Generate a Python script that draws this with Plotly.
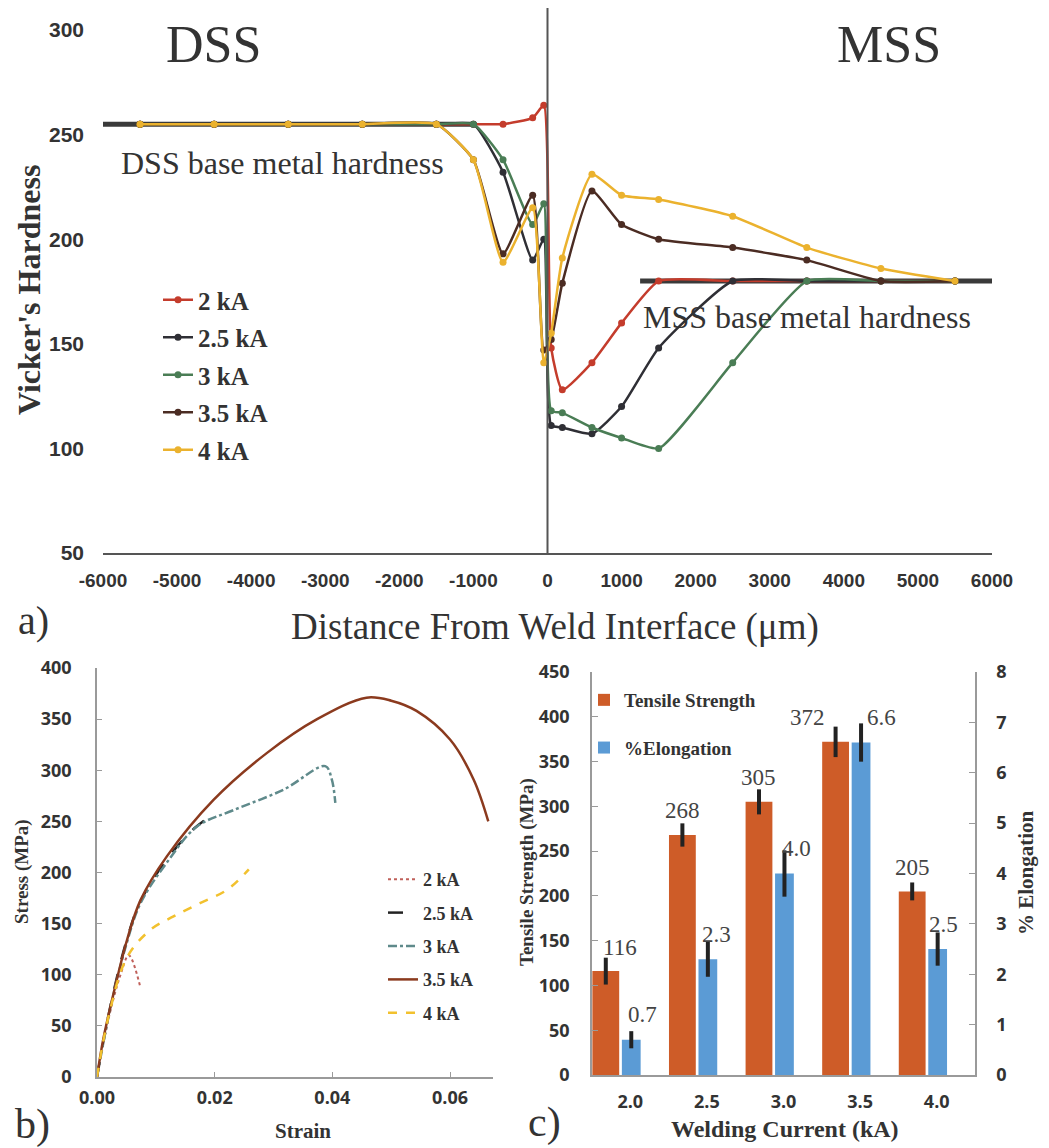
import plotly.graph_objects as go

# ---------------- data: (a) hardness profile ----------------
distance_um = [-5500, -4500, -3500, -2500, -1500, -1000, -600, -200, -50, 50, 200, 600, 1000, 1500, 2500, 3500, 4500, 5500]
hv_2kA   = [255, 255, 255, 255, 255, 255, 255, 258, 264, 148, 128, 141, 160, 180, 180, 180, 180, 180]
hv_2_5kA = [255, 255, 255, 255, 255, 255, 232, 190, 200, 111, 110, 107, 120, 148, 180, 180, 180, 180]
hv_3kA   = [255, 255, 255, 255, 255, 255, 238, 207, 217, 118, 117, 110, 105, 100, 141, 180, 180, 180]
hv_3_5kA = [255, 255, 255, 255, 255, 238, 193, 221, 147, 152, 179, 223, 207, 200, 196, 190, 180, 180]
hv_4kA   = [255, 255, 255, 255, 255, 238, 189, 215, 141, 155, 191, 231, 221, 219, 211, 196, 186, 180]
hardness_series = ["2 kA", "2.5 kA", "3 kA", "3.5 kA", "4 kA"]
dss_base_hv = 255
dss_base_span = [-6000, -1000]
mss_base_hv = 180
mss_base_span = [1250, 6000]
x_ticks_a = [-6000, -5000, -4000, -3000, -2000, -1000, 0, 1000, 2000, 3000, 4000, 5000, 6000]

# ---------------- data: (b) stress-strain ----------------
strain_2kA = [0, 0.002, 0.004, 0.0054, 0.0074]
stress_2kA = [0, 58, 100, 119, 87]
strain_2_5kA = [0, 0.0023, 0.0051, 0.0074, 0.0119, 0.0165, 0.0198]
stress_2_5kA = [0, 70, 135, 172, 213, 243, 257]
strain_3kA = [0, 0.0023, 0.0051, 0.0074, 0.0119, 0.017, 0.0232, 0.0317, 0.0388, 0.0399, 0.0405]
stress_3kA = [0, 68, 132, 170, 210, 245, 261, 281, 304, 291, 268]
strain_3_5kA = [0, 0.001, 0.0023, 0.0051, 0.0074, 0.0119, 0.0198, 0.0289, 0.0374, 0.0458, 0.050, 0.0543, 0.060, 0.064, 0.0665]
stress_3_5kA = [0, 35, 69, 134, 173, 216, 271, 317, 350, 371, 368, 358, 330, 291, 250]
strain_4kA = [0, 0.002, 0.0051, 0.0091, 0.013, 0.0175, 0.0221, 0.0258]
stress_4kA = [0, 60, 117, 144, 157, 170, 183, 203]

# ---------------- data: (c) tensile strength / elongation ----------------
welding_current = ["2.0", "2.5", "3.0", "3.5", "4.0"]
tensile_strength = [116, 268, 305, 372, 205]
tensile_err = [15, 13, 14, 17, 10]
elongation = [0.7, 2.3, 4.0, 6.6, 2.5]
elongation_err = [0.17, 0.35, 0.46, 0.38, 0.33]

SERIF = "Liberation Serif"
SANS_A = "Liberation Sans"
SANS = "Open Sans"
TXT = "#333333"
W, H = 1049, 1148
OFF = 8              # page body margin: the figure starts 8 px in from the window corner
FW, FH = W - OFF, H - OFF

def px_x(p):
    return (p - OFF) / FW

def px_y(p):
    return 1 - (p - OFF) / FH

fig = go.Figure()

# ---- (a) ----
colors_a = ["#C43C2C", "#2F2F35", "#4A7D55", "#4B2C23", "#EBB22E"]
series_a = [hv_2kA, hv_2_5kA, hv_3kA, hv_3_5kA, hv_4kA]
fig.add_trace(go.Scatter(x=dss_base_span, y=[dss_base_hv, dss_base_hv], mode="lines",
                         line=dict(color="#3A3A3A", width=5), showlegend=False, xaxis="x", yaxis="y"))
fig.add_trace(go.Scatter(x=mss_base_span, y=[mss_base_hv, mss_base_hv], mode="lines",
                         line=dict(color="#3A3A3A", width=5), showlegend=False, xaxis="x", yaxis="y"))
for name, ys, c in zip(hardness_series, series_a, colors_a):
    fig.add_trace(go.Scatter(x=distance_um, y=ys, name=name, mode="lines+markers",
                             line=dict(color=c, width=2.5, shape="spline", smoothing=0.5),
                             marker=dict(color=c, size=7), xaxis="x", yaxis="y",
                             legend="legend", legendgroup=name))

# ---- (b) ----
b_specs = [
    ("2 kA", strain_2kA, stress_2kA, "#C0605A", "dot", 2),
    ("2.5 kA", strain_2_5kA, stress_2_5kA, "#222222", "longdash", 2.5),
    ("3 kA", strain_3kA, stress_3kA, "#5F8A8B", "dashdot", 2.5),
    ("3.5 kA", strain_3_5kA, stress_3_5kA, "#8B3A1E", "solid", 2.5),
    ("4 kA", strain_4kA, stress_4kA, "#F2C12E", "dash", 2.5),
]
for name, xs, ys, c, dash, w in b_specs:
    fig.add_trace(go.Scatter(x=xs, y=ys, name=name, mode="lines",
                             line=dict(color=c, width=w, dash=dash, shape="spline", smoothing=1.0),
                             xaxis="x2", yaxis="y2", legend="legend2", legendgroup="b" + name))

# ---- (c) ----
idx = list(range(len(welding_current)))
fig.add_trace(go.Bar(x=idx, y=tensile_strength, name="Tensile Strength", width=0.35, offset=-0.495,
                     marker=dict(color="#CE5C28", line=dict(width=0)),
                     error_y=dict(type="data", array=tensile_err, color="#222222", thickness=4, width=0),
                     xaxis="x3", yaxis="y3", legend="legend3", legendgroup="ts"))
fig.add_trace(go.Bar(x=idx, y=elongation, name="%Elongation", width=0.245, offset=-0.11,
                     marker=dict(color="#5B9BD5", line=dict(width=0)),
                     error_y=dict(type="data", array=elongation_err, color="#222222", thickness=4, width=0),
                     xaxis="x3", yaxis="y4", legend="legend3", legendgroup="el"))

annotations = []
ts_xshift = [14, 0, 0, -28, 0]
for i, v in enumerate(tensile_strength):
    annotations.append(dict(x=i - 0.32, y=v, xref="x3", yref="y3", text=str(v), showarrow=False,
                            yshift=24, xshift=ts_xshift[i], font=dict(family=SERIF, size=23, color="#444")))
el_xshift = [11, 9, 12, 20, 6]
for i, v in enumerate(elongation):
    annotations.append(dict(x=i + 0.0125, y=v, xref="x3", yref="y4", text=f"{v:.1f}", showarrow=False,
                            yshift=25, xshift=el_xshift[i], font=dict(family=SERIF, size=23, color="#444")))

def ann(text, x, y, size, bold=False, angle=0, xanchor="center"):
    annotations.append(dict(text=text, x=px_x(x), y=px_y(y), xref="paper", yref="paper",
                            showarrow=False, textangle=angle, xanchor=xanchor, yanchor="middle",
                            font=dict(family=SERIF, size=size, color=TXT, weight="bold" if bold else "normal")))

ann("DSS", 213, 45, 52)
ann("MSS", 889, 45, 52)
ann("DSS base metal hardness", 119, 163, 32, xanchor="left")
ann("MSS base metal hardness", 641, 317, 32, xanchor="left")
ann("Vicker's Hardness", 29, 290, 32, bold=True, angle=-90)
ann("Distance From Weld Interface (μm)", 555, 627, 37)
ann("a)", 33, 620, 40)
ann("b)", 32, 1124, 42)
ann("c)", 545, 1122, 42)
ann("Stress (MPa)", 22, 872, 19, bold=True, angle=-90)
ann("Strain", 303, 1131, 21, bold=True)
ann("Tensile Strength (MPa)", 527, 872, 19, bold=True, angle=-90)
ann("% Elongation", 1026, 873, 21, bold=True, angle=-90)
ann("Welding Current (kA)", 785, 1129, 24, bold=True)

tickf_b = dict(family=SANS, size=18, color=TXT, weight="bold")
tickf_ax = dict(family=SANS_A, size=19, color=TXT, weight="bold")
tickf_ay = dict(family=SANS_A, size=21, color=TXT, weight="bold")

fig.update_layout(
    width=FW, height=FH, margin=dict(l=0, r=0, t=0, b=0, autoexpand=False),
    paper_bgcolor="white", plot_bgcolor="white",
    barmode="overlay",
    font=dict(family=SERIF, color=TXT),
    xaxis=dict(domain=[px_x(103), px_x(992)], range=[-6000, 6000], tickvals=x_ticks_a,
               ticktext=[str(v) for v in x_ticks_a],
               showgrid=False, zeroline=False, showline=True, linecolor="#555", linewidth=2,
               ticks="", ticklabelstandoff=9, tickfont=tickf_ax, anchor="y"),
    yaxis=dict(domain=[px_y(553), px_y(30)], range=[50, 300], dtick=50, showgrid=False,
               zeroline=False, showline=False, ticks="", tickfont=tickf_ay,
               ticklabelstandoff=18, anchor="x"),
    xaxis2=dict(domain=[px_x(97), px_x(493)], range=[0, 0.0673], tickvals=[0, 0.02, 0.04, 0.06],
                tickformat=".2f", showgrid=False, zeroline=False, showline=True, linecolor="#9A9A9A",
                linewidth=1.5, ticks="inside", ticklen=5, tickcolor="#9A9A9A", tickfont=tickf_b,
                ticklabelstandoff=4, anchor="y2"),
    yaxis2=dict(domain=[px_y(1077), px_y(668)], range=[0, 400], dtick=50, showgrid=False, zeroline=False,
                showline=True, linecolor="#9A9A9A", linewidth=1.5, ticks="inside", ticklen=5,
                tickcolor="#9A9A9A", tickfont=tickf_b, ticklabelstandoff=20, anchor="x2"),
    xaxis3=dict(domain=[px_x(592), px_x(975)], range=[-0.5, 4.5], tickvals=idx, ticktext=welding_current,
                showgrid=False, zeroline=False, showline=True, linecolor="#9A9A9A", linewidth=1.5,
                ticks="", tickfont=tickf_b, ticklabelstandoff=10, anchor="y3"),
    yaxis3=dict(domain=[px_y(1075), px_y(672)], range=[0, 450], dtick=50, showgrid=False, zeroline=False,
                showline=True, linecolor="#9A9A9A", linewidth=1.5, ticks="inside", ticklen=6,
                tickcolor="#9A9A9A", tickfont=tickf_b, ticklabelstandoff=17, anchor="x3"),
    yaxis4=dict(range=[0, 8], dtick=1, overlaying="y3", side="right", showgrid=False, zeroline=False,
                showline=True, linecolor="#9A9A9A", linewidth=1.5, ticks="inside", ticklen=6,
                tickcolor="#9A9A9A", tickfont=tickf_b, ticklabelstandoff=16, anchor="x3"),
    legend=dict(x=px_x(158), y=px_y(277), xanchor="left", yanchor="top", bgcolor="rgba(0,0,0,0)",
                font=dict(family=SERIF, size=25, color=TXT, weight="bold"), tracegroupgap=2,
                itemwidth=30),
    legend2=dict(x=px_x(383), y=px_y(861), xanchor="left", yanchor="top", bgcolor="rgba(0,0,0,0)",
                 font=dict(family=SERIF, size=18, color=TXT, weight="bold"), tracegroupgap=7,
                 itemwidth=30),
    legend3=dict(x=px_x(584), y=px_y(681), xanchor="left", yanchor="top", bgcolor="rgba(0,0,0,0)",
                 font=dict(family=SERIF, size=19, color=TXT, weight="bold"), tracegroupgap=20,
                 itemwidth=30),
    annotations=annotations,
    shapes=[dict(type="line", xref="x", yref="paper", x0=0, x1=0, y0=px_y(553), y1=1.0,
                 line=dict(color="#555", width=2))],
)

fig.write_html("out.html")
